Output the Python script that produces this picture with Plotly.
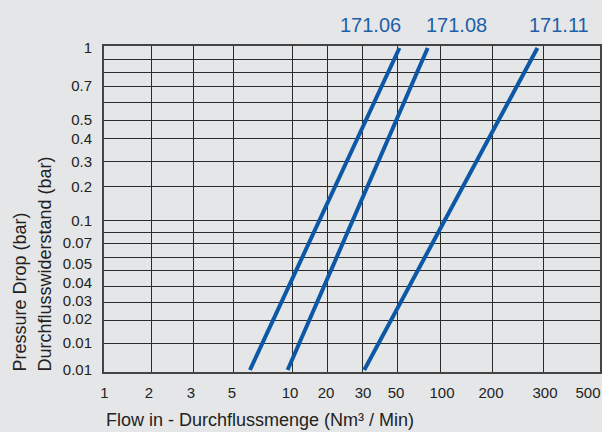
import numpy as np
import plotly.graph_objects as go

# ---------------- data ----------------
# X axis (flow, Nm³/Min): the chart's hand-drawn scale
X_VALUES = [1, 2, 3, 5, 10, 20, 30, 50, 100, 200, 300, 500]
X_LABELS = ["1", "2", "3", "5", "10", "20", "30", "50", "100", "200", "300", "500"]

# Y axis (pressure drop, bar): labels as printed (top to bottom)
Y_LABELS = ["1", "0.7", "0.5", "0.4", "0.3", "0.2", "0.1", "0.07",
            "0.05", "0.04", "0.03", "0.02", "0.01", "0.01"]
# values used for the scale anchors (top to bottom, unique)
Y_VALUES = [1, 0.7, 0.5, 0.4, 0.3, 0.2, 0.1, 0.07, 0.05, 0.04, 0.03, 0.02, 0.01]

# Series: flow read at 0.01 bar and at 1 bar
SERIES = ["171.06", "171.08", "171.11"]
FLOW_LOW = [6.1, 9.5, 31.0]
FLOW_HIGH = [52.0, 82.0, 287.0]
DP_LOW = 0.01
DP_HIGH = 1.0

# ---------------- layout geometry (axis units) ----------------
W, H = 496, 326
X_GRID_POS = [0, 47, 89, 129, 188, 223, 258, 293, 336, 388, 439, 496]
X_LABEL_POS = [0.5, 45, 87, 128, 186, 222, 259, 292, 338, 387, 441, 484]
Y_LABEL_POS = [324, 286, 252, 233, 210, 185, 151, 129, 108, 89, 71, 53, 29, 2]
Y_SCALE_POS = [324, 286, 252, 233, 210, 185, 151, 129, 108, 89, 71, 53, 2]
Y_GRID_POS = [313, 300, 286, 270, 252, 234, 211, 186, 152, 140, 129, 115,
              102, 86, 70, 52, 29]

FONT = "Liberation Sans, Arial, Helvetica, sans-serif"
BG = "#e5e6e8"
BLUE = "#0d58a6"
GRID = "#2b2b2b"


def x_pos(v):
    return np.interp(np.log10(v), np.log10(X_VALUES), X_GRID_POS)


def y_pos(v):
    vals = np.log10(Y_VALUES[::-1])
    pos = Y_SCALE_POS[::-1]
    return np.interp(np.log10(v), vals, pos)


fig = go.Figure()
for name, lo, hi in zip(SERIES, FLOW_LOW, FLOW_HIGH):
    fig.add_trace(go.Scatter(
        x=x_pos(np.array([lo, hi])),
        y=y_pos(np.array([DP_LOW, DP_HIGH])),
        mode="lines", name=name, showlegend=False,
        line=dict(color=BLUE, width=4),
    ))

ML, MT = 104, 46
# series labels above the chart
LABEL_PX = [370.7, 456, 558.7]
for name, px in zip(SERIES, LABEL_PX):
    fig.add_annotation(
        text=name, xref="paper", yref="paper",
        x=(px - ML) / W, y=(372 - 25) / H, xanchor="center", yanchor="middle",
        showarrow=False, font=dict(family=FONT, size=20, color="#1d5fa9"))

# y-axis title (two rotated lines)
for txt, px in [("Pressure Drop (bar)", 19), ("Durchflusswiderstand (bar)", 44)]:
    fig.add_annotation(
        text=txt, xref="paper", yref="paper", textangle=-90,
        x=(px - ML) / W, y=(372 - 374) / H, xanchor="center", yanchor="bottom",
        showarrow=False, font=dict(family=FONT, size=18, color="#222"))

# x-axis title
fig.add_annotation(
    text="Flow in - Durchflussmenge (Nm³ / Min)", xref="paper", yref="paper",
    x=(104 - ML) / W, y=(372 - 420) / H, xanchor="left", yanchor="middle",
    showarrow=False, font=dict(family=FONT, size=18, color="#222"))

fig.update_layout(
    width=602, height=432,
    margin=dict(l=ML, r=602 - ML - W, t=MT, b=432 - MT - H, autoexpand=False),
    paper_bgcolor=BG, plot_bgcolor=BG,
    font=dict(family=FONT, size=15, color="#222"),
    xaxis=dict(
        range=[0, W], tickmode="array", tickvals=X_LABEL_POS, ticktext=X_LABELS,
        showgrid=False, zeroline=False, ticks="", ticklabelstandoff=6,
        automargin=False, ticklabeloverflow="allow",
        showline=True, mirror=True, linecolor="#444", linewidth=2,
        minor=dict(tickmode="array", tickvals=X_GRID_POS, showgrid=True,
                   gridcolor=GRID, gridwidth=1.3, ticks=""),
        fixedrange=True,
    ),
    yaxis=dict(
        range=[0, H], tickmode="array", tickvals=Y_LABEL_POS, ticktext=Y_LABELS,
        showgrid=False, zeroline=False, ticks="", ticklabelstandoff=7,
        automargin=False, ticklabeloverflow="allow",
        showline=True, mirror=True, linecolor="#444", linewidth=2,
        minor=dict(tickmode="array", tickvals=Y_GRID_POS, showgrid=True,
                   gridcolor=GRID, gridwidth=1.3, ticks=""),
        fixedrange=True,
    ),
)

fig.write_html(
    "out.html",
    config={"displayModeBar": False},
    post_script="document.body.style.margin='0';document.body.style.background='%s';" % BG,
)
